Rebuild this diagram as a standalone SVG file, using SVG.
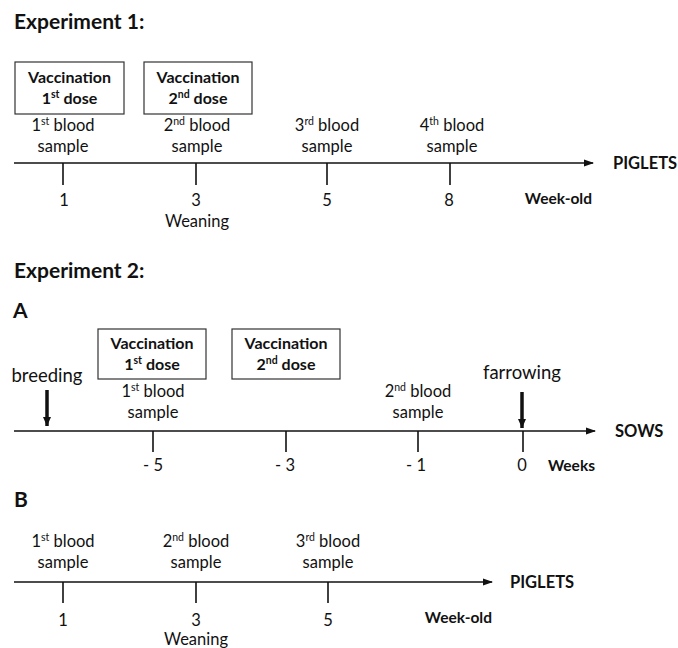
<svg xmlns="http://www.w3.org/2000/svg" width="678" height="648" viewBox="0 0 678 648">
<style>
text{font-family:Lato,"Open Sans",sans-serif;fill:#111}
.t{font-size:21px;font-weight:bold}
.b{font-size:16px;font-weight:bold}
.r{font-size:16.5px}
.m{text-anchor:middle}
.lab{font-size:16.5px;font-weight:bold}
.sm{font-size:15.5px;font-weight:bold}
.big{font-size:18.5px}
.box{fill:#fff;stroke:#333;stroke-width:1.2}
.ax{stroke:#111;stroke-width:1.6;fill:none}
.tk{stroke:#111;stroke-width:1.6}
.thk{stroke:#111;stroke-width:3.5}
.sup{font-size:10.5px}
</style>
<defs>
<marker id="ah" markerWidth="10" markerHeight="8" refX="9" refY="4" orient="auto" markerUnits="userSpaceOnUse"><path d="M0,0.5 L10,4 L0,7.5 Z" fill="#111"/></marker>
<marker id="ahb" markerWidth="10" markerHeight="8" refX="9" refY="4" orient="auto" markerUnits="userSpaceOnUse"><path d="M0,0 L9,4 L0,8 Z" fill="#111"/></marker>
</defs>

<text class="t" x="14" y="29">Experiment 1:</text>
<g id="e1-vac1"><rect class="box" x="15" y="62" width="109" height="52"/><text class="b m" x="69.5" y="83">Vaccination</text><text class="b m" x="69.5" y="104">1<tspan class="sup" dy="-6">st</tspan><tspan dy="6"> dose</tspan></text></g>
<g id="e1-vac2"><rect class="box" x="144" y="62" width="108" height="52"/><text class="b m" x="198" y="83">Vaccination</text><text class="b m" x="198" y="104">2<tspan class="sup" dy="-6">nd</tspan><tspan dy="6"> dose</tspan></text></g>
<g id="e1-bs1"><text class="r m" x="63" y="131">1<tspan class="sup" dy="-6">st</tspan><tspan dy="6"> blood</tspan></text><text class="r m" x="63" y="152">sample</text></g>
<g id="e1-bs2"><text class="r m" x="197" y="131">2<tspan class="sup" dy="-6">nd</tspan><tspan dy="6"> blood</tspan></text><text class="r m" x="197" y="152">sample</text></g>
<g id="e1-bs3"><text class="r m" x="327" y="131">3<tspan class="sup" dy="-6">rd</tspan><tspan dy="6"> blood</tspan></text><text class="r m" x="327" y="152">sample</text></g>
<g id="e1-bs4"><text class="r m" x="452" y="131">4<tspan class="sup" dy="-6">th</tspan><tspan dy="6"> blood</tspan></text><text class="r m" x="452" y="152">sample</text></g>
<g id="e1-axis">
<line class="ax" x1="14" y1="163" x2="593" y2="163" marker-end="url(#ah)"/>
<line class="tk" x1="63" y1="163" x2="63" y2="185"/>
<line class="tk" x1="196" y1="163" x2="196" y2="185"/>
<line class="tk" x1="327" y1="163" x2="327" y2="185"/>
<line class="tk" x1="450" y1="163" x2="450" y2="185"/>
</g>
<g id="e1-labels">
<text class="r m" x="64" y="206">1</text>
<text class="r m" x="196" y="206">3</text>
<text class="r m" x="197" y="227">Weaning</text>
<text class="r m" x="327" y="206">5</text>
<text class="r m" x="449" y="206">8</text>
<text class="sm" x="592" y="204" text-anchor="end">Week-old</text>
<text class="lab" x="613" y="169">PIGLETS</text>
</g>

<text class="t" x="14" y="278">Experiment 2:</text>
<text class="t" x="13" y="318">A</text>
<g id="a-vac1"><rect class="box" x="98" y="329" width="108" height="50"/><text class="b m" x="152" y="349">Vaccination</text><text class="b m" x="152" y="370">1<tspan class="sup" dy="-6">st</tspan><tspan dy="6"> dose</tspan></text></g>
<g id="a-vac2"><rect class="box" x="232" y="329" width="108" height="50"/><text class="b m" x="286" y="349">Vaccination</text><text class="b m" x="286" y="370">2<tspan class="sup" dy="-6">nd</tspan><tspan dy="6"> dose</tspan></text></g>
<g id="a-breeding"><text class="big m" x="47" y="382">breeding</text></g>
<g id="a-farrowing"><text class="big m" x="522" y="379">farrowing</text></g>
<g id="a-bs1"><text class="r m" x="153" y="397">1<tspan class="sup" dy="-6">st</tspan><tspan dy="6"> blood</tspan></text><text class="r m" x="153" y="418">sample</text></g>
<g id="a-bs2"><text class="r m" x="418" y="397">2<tspan class="sup" dy="-6">nd</tspan><tspan dy="6"> blood</tspan></text><text class="r m" x="418" y="418">sample</text></g>
<g id="a-axis">
<line class="ax" x1="14" y1="431" x2="595" y2="431" marker-end="url(#ah)"/>
<line class="tk" x1="153" y1="431" x2="153" y2="452"/>
<line class="tk" x1="286" y1="431" x2="286" y2="452"/>
<line class="tk" x1="418" y1="431" x2="418" y2="452"/>
<line class="tk" x1="523" y1="431" x2="523" y2="452"/>
<line class="thk" x1="47" y1="390" x2="47" y2="426" marker-end="url(#ahb)"/>
<line class="thk" x1="522" y1="392" x2="522" y2="428" marker-end="url(#ahb)"/>
</g>
<g id="a-labels">
<text class="r m" x="153" y="471">- 5</text>
<text class="r m" x="285" y="471">- 3</text>
<text class="r m" x="416" y="471">- 1</text>
<text class="r m" x="522" y="471">0</text>
<text class="sm" x="548" y="471">Weeks</text>
<text class="lab" x="615" y="437">SOWS</text>
</g>

<text class="t" x="14" y="507">B</text>
<g id="b-bs1"><text class="r m" x="63" y="547">1<tspan class="sup" dy="-6">st</tspan><tspan dy="6"> blood</tspan></text><text class="r m" x="63" y="568">sample</text></g>
<g id="b-bs2"><text class="r m" x="196" y="547">2<tspan class="sup" dy="-6">nd</tspan><tspan dy="6"> blood</tspan></text><text class="r m" x="196" y="568">sample</text></g>
<g id="b-bs3"><text class="r m" x="328" y="547">3<tspan class="sup" dy="-6">rd</tspan><tspan dy="6"> blood</tspan></text><text class="r m" x="328" y="568">sample</text></g>
<g id="b-axis">
<line class="ax" x1="14" y1="582" x2="492" y2="582" marker-end="url(#ah)"/>
<line class="tk" x1="63" y1="582" x2="63" y2="603"/>
<line class="tk" x1="196" y1="582" x2="196" y2="603"/>
<line class="tk" x1="328" y1="582" x2="328" y2="603"/>
</g>
<g id="b-labels">
<text class="r m" x="63" y="626">1</text>
<text class="r m" x="196" y="626">3</text>
<text class="r m" x="196" y="645">Weaning</text>
<text class="r m" x="328" y="626">5</text>
<text class="sm" x="492" y="623" text-anchor="end">Week-old</text>
<text class="lab" x="510" y="588">PIGLETS</text>
</g>
</svg>
